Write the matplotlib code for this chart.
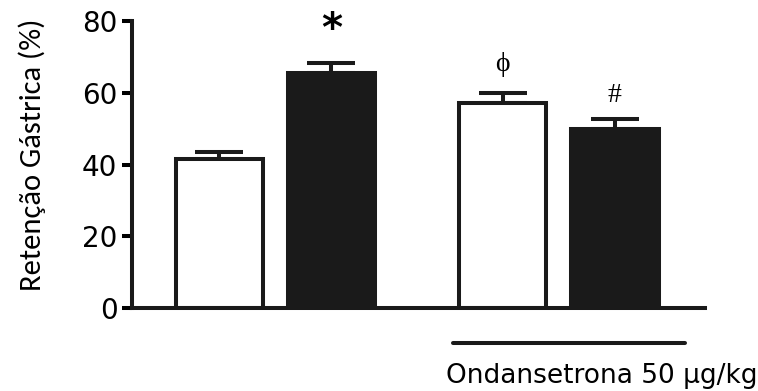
import matplotlib
matplotlib.use("Agg")
import matplotlib.pyplot as plt

groups = ["Controle", "Tratado", "Ond + Controle", "Ond + Tratado"]
positions = [0, 1, 2.53, 3.53]
means = [41.4, 65.6, 57.2, 50.0]
sems = [2.2, 2.6, 2.8, 2.8]
fills = ["white", "#1a1a1a", "white", "#1a1a1a"]
marks = ["", "*", "\u03d5", "#"]
mark_y = [0, 77.6, 67.8, 59.2]

fig = plt.figure(figsize=(7.58, 3.91), dpi=100)
ax = fig.add_axes([132/758, 1-308/391, (705-132)/758, (308-21)/391])

ax.bar(positions, means, width=0.78, color=fills, edgecolor="#1a1a1a",
       linewidth=2.9, zorder=2)
ax.errorbar(positions, means, yerr=[[0]*4, sems], fmt="none", ecolor="#1a1a1a",
            elinewidth=2.9, capsize=17, capthick=2.9, zorder=1)

for x, m, y in zip(positions, marks, mark_y):
    if m == "*":
        ax.text(x, y, m, ha="center", va="center", fontsize=29,
                fontweight="bold", family="DejaVu Sans")
    elif m:
        ax.text(x, y, m, ha="center", va="center", fontsize=20,
                family="Liberation Serif")

ax.set_xlim(-0.78, 4.335)
ax.set_ylim(0, 80)
ax.set_yticks([0, 20, 40, 60, 80])
ax.set_xticks([])
ax.tick_params(axis="y", length=7, width=2.9, labelsize=20, pad=3.5)
for lab in ax.get_yticklabels():
    lab.set_family("DejaVu Sans")
for s in ["top", "right"]:
    ax.spines[s].set_visible(False)
for s in ["left", "bottom"]:
    ax.spines[s].set_linewidth(2.9)
    ax.spines[s].set_color("#1a1a1a")

ax.set_ylabel("Retenção Gástrica (%)", fontsize=22, family="Carlito")
ax.yaxis.set_label_coords(-0.150, 0.535)

# treatment bar under the last two groups
ax.plot([2.085, 4.156], [-9.8, -9.8], color="#1a1a1a", lw=2.9, clip_on=False,
        solid_capstyle="round")
ax.text(4.80, -20.9, "Ondansetrona 50 \u00b5g/kg", ha="right", va="baseline",
        fontsize=19, family="DejaVu Sans")

fig.savefig("out.png", dpi=100)
